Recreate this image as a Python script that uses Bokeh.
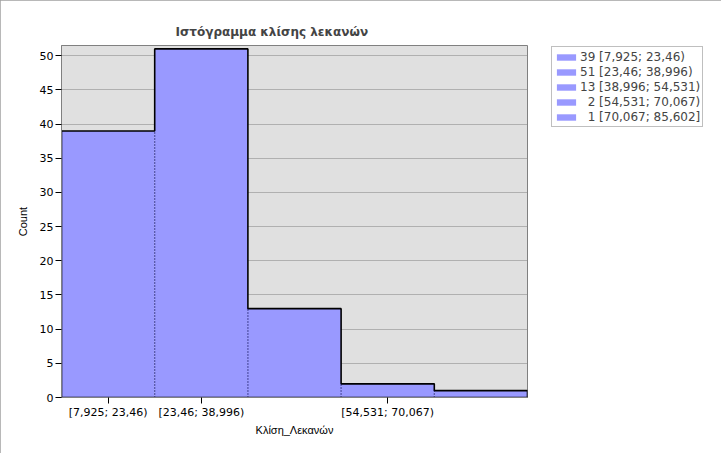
from bokeh.plotting import figure
from bokeh.models import (Range1d, FixedTicker, Legend, LegendItem, ColumnDataSource)
from bokeh.embed import file_html
from bokeh.resources import INLINE

# ---- data ----
counts = [39, 51, 13, 2, 1]
edges = [7.925, 23.46, 38.996, 54.531, 70.067, 85.602]
bin_labels = ["[7,925; 23,46)", "[23,46; 38,996)", "[38,996; 54,531)",
              "[54,531; 70,067)", "[70,067; 85,602]"]
shown_tick_bins = [0, 1, 3]
y_ticks = [0, 5, 10, 15, 20, 25, 30, 35, 40, 45, 50]
title_text = "Ιστόγραμμα κλίσης λεκανών"
x_label = "Κλίση_Λεκανών"
y_label = "Count"

BAR = "#9999ff"
FONT = "Liberation Sans"
TFONT = "DejaVu Sans"

p = figure(frame_width=466, frame_height=352, output_backend="svg", toolbar_location=None,
           x_range=Range1d(edges[0], edges[-1]), y_range=Range1d(0, 51.5),
           min_border_left=61, min_border_right=194, min_border_top=45,
           min_border_bottom=56)
p.styles = {"outline": "2px solid #a0a0a0", "outline-offset": "-2px"}

p.title.text = title_text
p.title.align = "left"
p.title.offset = 114
p.title.text_font = "DejaVu Sans"
p.title.text_font_size = "12px"
p.title.text_font_style = "bold"
p.title.standoff = 14

p.background_fill_color = "#e0e0e0"
p.border_fill_color = "white"
p.outline_line_color = "#808080"

src = ColumnDataSource(dict(left=edges[:-1], right=edges[1:], top=counts,
                            bottom=[0] * len(counts)))
r = p.quad(left="left", right="right", top="top", bottom="bottom", source=src,
           fill_color=BAR, line_color=None)

# outline of histogram (step path)
sx, sy = [edges[0]], [0]
for i, c in enumerate(counts):
    sx += [edges[i], edges[i + 1]]
    sy += [c, c]
sx.append(edges[-1]); sy.append(0)
p.line(sx, sy, line_color="black", line_width=1.6)
# interior shared boundaries dotted
for i in range(1, len(counts)):
    p.segment(x0=[edges[i]], y0=[0], x1=[edges[i]], y1=[min(counts[i - 1], counts[i])],
              line_color="#000050", line_dash="1 2", line_width=1.2)
p.line([edges[0], edges[-1]], [0, 0], line_color="black", line_width=1.6)

# axes
centers = [(edges[i] + edges[i + 1]) / 2 for i in range(len(counts))]
p.xaxis.ticker = FixedTicker(ticks=[centers[i] for i in shown_tick_bins])
p.xaxis.major_label_overrides = {centers[i]: bin_labels[i] for i in shown_tick_bins}
p.yaxis.ticker = FixedTicker(ticks=y_ticks)
p.xaxis.axis_label = x_label
p.yaxis.axis_label = y_label
for ax in (p.xaxis[0], p.yaxis[0]):
    ax.axis_line_color = "#808080"
    ax.major_tick_line_color = "black"
    ax.major_tick_out = 6
    ax.major_tick_in = 0
    ax.minor_tick_line_color = None
    ax.major_label_text_font = TFONT
    ax.major_label_text_font_size = "11px"
    ax.major_label_text_color = "black"
    ax.axis_label_text_font = FONT
    ax.axis_label_text_font_size = "11px"
    ax.axis_label_text_font_style = "normal"
    ax.axis_label_text_color = "black"
p.xaxis.major_label_standoff = 2
p.xaxis.axis_label_standoff = 2
p.yaxis.major_label_standoff = 2
p.yaxis.axis_label_standoff = 8

p.xgrid.grid_line_color = None
p.ygrid.grid_line_color = "#808080"
p.ygrid.grid_line_dash = "1 1"

# legend
items = [LegendItem(label=f"{'\u2007' if c < 10 else ''}{c} {lab}", renderers=[r], index=i)
         for i, (c, lab) in enumerate(zip(counts, bin_labels))]
leg = Legend(items=items, location=(24, 270), margin=0, padding=2, spacing=0,
             glyph_width=24, glyph_height=8, label_height=15, label_width=114,
             label_text_font=TFONT, label_text_font_size="12px",
             label_standoff=2, border_line_color="#808080",
             background_fill_color="white", background_fill_alpha=1.0)
leg.item_background_fill_alpha = 0
p.add_layout(leg, "right")

open("out.html", "w").write(file_html(p, INLINE))
